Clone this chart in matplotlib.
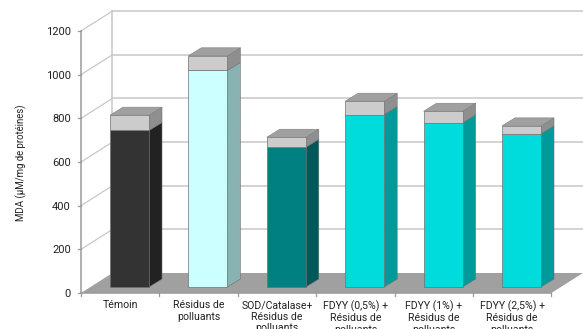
import matplotlib
matplotlib.use('Agg')
import matplotlib.pyplot as plt

plt.rcParams['font.family'] = ['Roboto', 'DejaVu Sans']

# donnees du graphique
categories = ['Témoin', 'Résidus de\npolluants', 'SOD/Catalase+\nRésidus de\npolluants',
              'FDYY (0,5%) +\nRésidus de\npolluants', 'FDYY (1%) +\nRésidus de\npolluants',
              'FDYY (2,5%) +\nRésidus de\npolluants']
mda = [717, 992, 640, 790, 752, 702]
erreur = [70, 67, 46, 61, 53, 36]
yticks = [0, 200, 400, 600, 800, 1000, 1200]

couleurs = ['#333333', '#ccffff', '#008080', '#00dcdc', '#00dcdc', '#00dcdc']
cotes = ['#222222', '#8ab2b2', '#005959', '#009a9a', '#009a9a', '#009a9a']

W, H = 583, 329
x0_px, y0_px = 81, 293      # origine des axes en pixels
cat_px = 78.4               # largeur d'une categorie
unit_px = 262 / 1200        # pixels par unite de MDA

fig = plt.figure(figsize=(W / 100, H / 100), dpi=100)
ax = fig.add_axes([0, 0, 1, 1])
ax.set_xlim(-x0_px / cat_px, (W - x0_px) / cat_px)
ax.set_ylim(-(H - y0_px) / unit_px, y0_px / unit_px)
ax.axis('off')

# profondeur du graphique et des barres, convertie en unites des axes
px = 1 / cat_px
py = 1 / unit_px
dx, dy = 31.5 * px, 20 * py
bx, by = 13 * px, 8 * py
larg = 39 * px
n = len(categories)
grille = '#c8c8c8'
axe = '#9a9a9a'

# sol
ax.fill([0, n, n + dx, dx], [0, 0, dy, dy], color='#a0a0a0', lw=0, zorder=1)

# grille : paroi gauche et paroi du fond
for v in yticks[1:]:
    ax.plot([0, dx], [v, v + dy], color=grille, lw=0.9, zorder=1)
    ax.plot([dx, n + dx], [v + dy, v + dy], color=grille, lw=1.1, zorder=1)
ax.plot([dx, dx], [dy, yticks[-1] + dy], color=grille, lw=1.1, zorder=1)

# axes et graduations
ax.plot([0, 0], [0, yticks[-1]], color=axe, lw=1.1, zorder=2)
ax.plot([0, n], [0, 0], color=axe, lw=1.1, zorder=2)
for v in yticks:
    ax.plot([-3 * px, 0], [v, v], color=axe, lw=0.9, zorder=2)
    ax.text(-10 * px, v - 1 * py, str(v), ha='right', va='center', fontsize=8.0, color='#222222')
for i in range(n + 1):
    ax.plot([i, i], [0, -3 * py], color=axe, lw=0.9, zorder=2)


def pave(x, y1, y2, face, cote, z):
    # face avant et face laterale d'un segment de barre
    ax.fill([x + larg, x + larg + bx, x + larg + bx, x + larg],
            [y1, y1 + by, y2 + by, y2], facecolor=cote, edgecolor='#707070', lw=0.4, zorder=z)
    ax.fill([x, x + larg, x + larg, x], [y1, y1, y2, y2],
            facecolor=face, edgecolor='#707070', lw=0.5, zorder=z)


# barres empilees, de gauche a droite
base = 6 * py
for i in range(n):
    x = i + 0.5 - larg / 2 + 9.3 * px
    haut = mda[i] + erreur[i]
    pave(x, base, base + mda[i], couleurs[i], cotes[i], 3)
    pave(x, base + mda[i], base + haut, '#cccccc', '#8f8f8f', 3)
    ax.fill([x, x + larg, x + larg + bx, x + bx],
            [base + haut, base + haut, base + haut + by, base + haut + by],
            facecolor='#a0a0a0', edgecolor='#808080', lw=0.4, zorder=3)
    ax.text(i + 0.5, -7.5 * py, categories[i], ha='center', va='top', fontsize=7.6,
            color='#222222', linespacing=1.18, clip_on=False)

ax.text(-59.5 * px, 595, 'MDA (µM/mg de protéines)', rotation=90, ha='center',
        va='center', fontsize=6.9, color='#222222')

fig.savefig('out.png', dpi=100)
